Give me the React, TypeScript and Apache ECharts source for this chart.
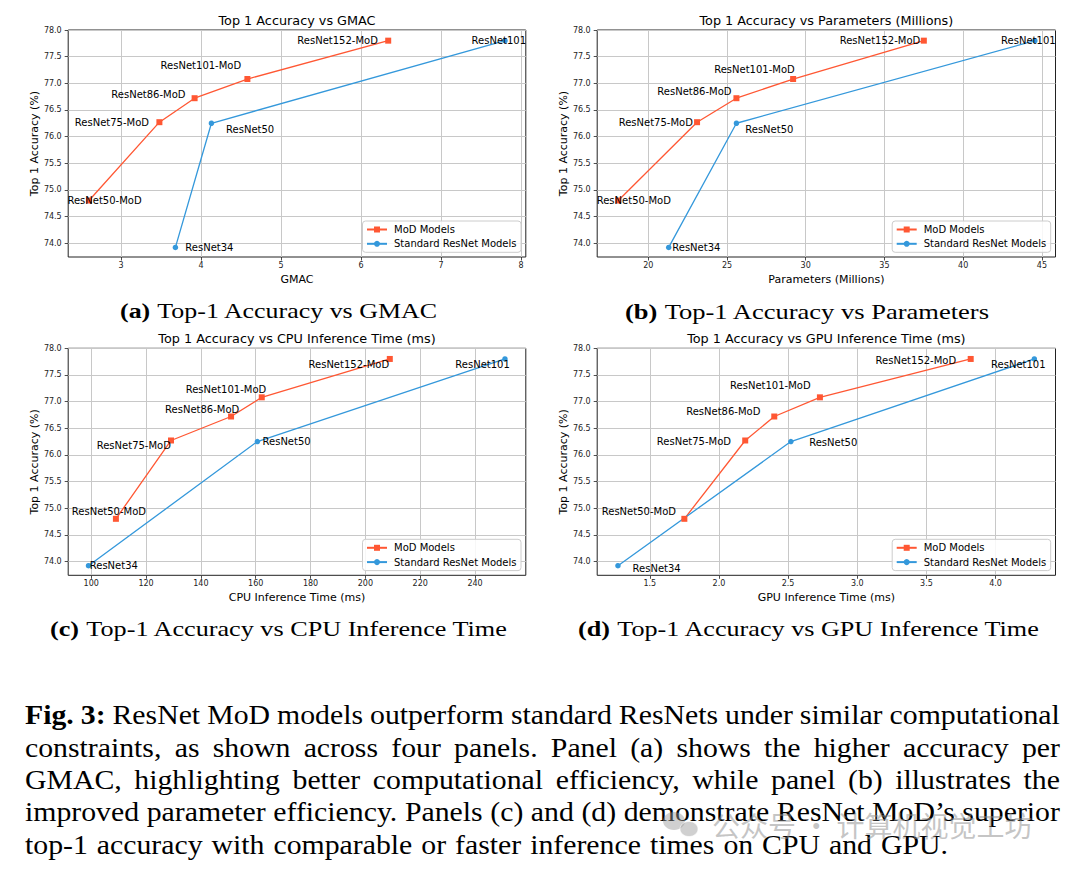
import React, { useEffect, useRef } from 'react';
import * as echarts from 'echarts';

// ---------------- data ----------------
const modNames = ['ResNet50-MoD', 'ResNet75-MoD', 'ResNet86-MoD', 'ResNet101-MoD', 'ResNet152-MoD'];
const stdNames = ['ResNet34', 'ResNet50', 'ResNet101'];
const modAccuracy = [74.8, 76.27, 76.72, 77.08, 77.8];
const stdAccuracy = [73.92, 76.25, 77.8];

const modGmac = [2.6, 3.48, 3.92, 4.58, 6.34];
const stdGmac = [3.68, 4.13, 7.8];
const modParams = [18.1, 23.1, 25.6, 29.2, 37.5];
const stdParams = [21.3, 25.6, 44.55];
const modCpu = [109.0, 129.1, 151.0, 162.2, 208.9];
const stdCpu = [99.0, 160.6, 250.9];
const modGpu = [1.75, 2.19, 2.4, 2.73, 3.82];
const stdGpu = [1.27, 2.52, 4.28];

const accuracyTicks = [74.0, 74.5, 75.0, 75.5, 76.0, 76.5, 77.0, 77.5, 78.0];
const gmacTicks = [3, 4, 5, 6, 7, 8];
const paramTicks = [20, 25, 30, 35, 40, 45];
const cpuTicks = [100, 120, 140, 160, 180, 200, 220, 240];
const gpuTicks = [1.5, 2.0, 2.5, 3.0, 3.5, 4.0];

const panelTitles = [
  'Top 1 Accuracy vs GMAC',
  'Top 1 Accuracy vs Parameters (Millions)',
  'Top 1 Accuracy vs CPU Inference Time (ms)',
  'Top 1 Accuracy vs GPU Inference Time (ms)',
];
const xAxisNames = ['GMAC', 'Parameters (Millions)', 'CPU Inference Time (ms)', 'GPU Inference Time (ms)'];
const yAxisName = 'Top 1 Accuracy (%)';
const subLetters = ['(a)', '(b)', '(c)', '(d)'];
const subTexts = [
  'Top-1 Accuracy vs GMAC',
  'Top-1 Accuracy vs Parameters',
  'Top-1 Accuracy vs CPU Inference Time',
  'Top-1 Accuracy vs GPU Inference Time',
];
const captionLines = [
  'Fig. 3: ResNet MoD models outperform standard ResNets under similar computational',
  'constraints, as shown across four panels. Panel (a) shows the higher accuracy per',
  'GMAC, highlighting better computational efficiency, while panel (b) illustrates the',
  'improved parameter efficiency. Panels (c) and (d) demonstrate ResNet MoD\u2019s superior',
  'top-1 accuracy with comparable or faster inference times on CPU and GPU.',
];
const watermarkText = '公众号 · 计算机视觉工坊';

// ---------------- layout / style ----------------
const RED = '#FF5733';
const BLUE = '#3498DB';
const SANS = 'DejaVu Sans';
const SERIF = 'Liberation Serif';

const grids = [
  { left: 68.2, top: 30, width: 457.6, height: 227 },
  { left: 597.2, top: 30, width: 458.3, height: 227 },
  { left: 68.2, top: 348.3, width: 457.6, height: 227 },
  { left: 597.2, top: 348.3, width: 458.3, height: 227 },
];
const xRanges = [
  [2.34, 8.06],
  [16.76, 45.86],
  [91.6, 258.5],
  [1.12, 4.433],
];
const yRange = [73.74, 78.0];
const xDecimals = [0, 0, 0, 1];

const modOffsets = [
  [[15.5, 0], [-47.5, 0], [-46.2, -4], [-46.5, -14], [-50.6, 0]],
  [[15.5, 0], [-41.3, 0], [-42, -6.7], [-38.7, -9.7], [-43.9, 0]],
  [[-7, -7.7], [-37.2, 5], [-28.9, -7], [-35.8, -7.7], [-41, 5.3]],
  [[-45.5, -7.7], [-51.3, 1.3], [-51, -5.3], [-49.6, -11.7], [-54.8, 2]],
];
const stdOffsets = [
  [[34, 0], [38.7, 6], [-6.2, 0]],
  [[27.6, 0], [32.9, 6], [-6.5, 0]],
  [[25.3, 0], [29.2, 0], [-22.4, 5.3]],
  [[38.7, 2.3], [42.4, 1], [-16, 5.3]],
];

const subCaptionBoxes = [
  { cx: 279, cy: 311, w: 318 },
  { cx: 807.5, cy: 311, w: 365 },
  { cx: 279, cy: 628, w: 458 },
  { cx: 809, cy: 628, w: 462 },
];

const CAP_FONT = 27;
const CAP_LEFT = 25;
const CAP_RIGHT = 1060;
const CAP_LAST_RIGHT = 948;
const CAP_Y = [715.2, 747.6, 780.0, 812.4, 844.8];

let measureCtx: CanvasRenderingContext2D | null = null;
function measure(text: string, font: string): number {
  if (!measureCtx) measureCtx = document.createElement('canvas').getContext('2d');
  measureCtx!.font = font;
  return measureCtx!.measureText(text).width;
}

function buildCaption(): any[] {
  const els: any[] = [];
  const lineWords = captionLines.map((l) => l.split(' '));
  const fontOf = (li: number, wi: number) =>
    (li === 0 && wi < 2 ? 'bold ' : '') + CAP_FONT + 'px "' + SERIF + '"';
  const widths = lineWords.map((ws, li) => ws.map((w, wi) => measure(w, fontOf(li, wi))));
  // horizontal scale from last (unjustified) line with natural spacing
  const lastIdx = lineWords.length - 1;
  const natGap = 0.333 * 26.8;
  const lastWordsSum = widths[lastIdx].reduce((a, b) => a + b, 0);
  const s = (CAP_LAST_RIGHT - CAP_LEFT - natGap * (lineWords[lastIdx].length - 1)) / lastWordsSum;
  lineWords.forEach((ws, li) => {
    const sum = widths[li].reduce((a, b) => a + b, 0) * s;
    const gap = li === lastIdx ? natGap : (CAP_RIGHT - CAP_LEFT - sum) / (ws.length - 1);
    let x = CAP_LEFT;
    ws.forEach((w, wi) => {
      const bold = li === 0 && wi < 2;
      els.push({
        type: 'text',
        x,
        y: CAP_Y[li],
        scaleX: s,
        silent: true,
        style: {
          text: w,
          fontFamily: SERIF,
          fontSize: CAP_FONT,
          fontWeight: bold ? 'bold' : 'normal',
          fill: '#000',
          align: 'left',
          verticalAlign: 'middle',
        },
      });
      x += widths[li][wi] * s + gap;
    });
  });
  return els;
}

function buildSubCaptions(): any[] {
  return subCaptionBoxes.map((b, i) => {
    const fs = 22;
    const w =
      measure(subLetters[i], 'bold ' + fs + 'px "' + SERIF + '"') +
      measure(' ' + subTexts[i], fs + 'px "' + SERIF + '"');
    return {
      type: 'text',
      x: b.cx,
      y: b.cy,
      scaleX: b.w / w,
      silent: true,
      style: {
        text: '{b|' + subLetters[i] + '} ' + subTexts[i],
        fontFamily: SERIF,
        fontSize: fs,
        fill: '#000',
        align: 'center',
        verticalAlign: 'middle',
        rich: { b: { fontWeight: 'bold', fontFamily: SERIF, fontSize: fs, fill: '#000' } },
      },
    };
  });
}

function buildOption(): any {
  const modX = [modGmac, modParams, modCpu, modGpu];
  const stdX = [stdGmac, stdParams, stdCpu, stdGpu];
  const xTicks = [gmacTicks, paramTicks, cpuTicks, gpuTicks];

  const labelBase = {
    show: true,
    position: 'inside',
    formatter: '{b}',
    fontFamily: SANS,
    fontSize: 10,
    color: '#000',
    align: 'center',
    verticalAlign: 'middle',
  };

  const series: any[] = [];
  grids.forEach((_, i) => {
    series.push({
      type: 'line',
      name: 'MoD Models',
      xAxisIndex: i,
      yAxisIndex: i,
      symbol: 'rect',
      symbolSize: 6,
      clip: false,
      itemStyle: { color: RED },
      lineStyle: { color: RED, width: 1.3 },
      label: labelBase,
      emphasis: { disabled: true },
      data: modX[i].map((x, k) => ({
        name: modNames[k],
        value: [x, modAccuracy[k]],
        label: { offset: modOffsets[i][k] },
      })),
    });
    series.push({
      type: 'line',
      name: 'Standard ResNet Models',
      xAxisIndex: i,
      yAxisIndex: i,
      symbol: 'circle',
      symbolSize: 5.5,
      clip: false,
      itemStyle: { color: BLUE },
      lineStyle: { color: BLUE, width: 1.3 },
      label: labelBase,
      emphasis: { disabled: true },
      data: stdX[i].map((x, k) => ({
        name: stdNames[k],
        value: [x, stdAccuracy[k]],
        label: { offset: stdOffsets[i][k] },
      })),
    });
  });

  const xAxes = grids.map((_, i) => ({
    type: 'value',
    gridIndex: i,
    min: xRanges[i][0],
    max: xRanges[i][1],
    name: xAxisNames[i],
    nameLocation: 'middle',
    nameGap: 17,
    nameTextStyle: { fontFamily: SANS, fontSize: 11, color: '#000' },
    axisLine: { show: false },
    axisTick: { show: true, length: 3.5, customValues: xTicks[i], lineStyle: { color: '#222', width: 0.8 } },
    axisLabel: {
      customValues: xTicks[i],
      formatter: (v: number) => v.toFixed(xDecimals[i]),
      fontFamily: SANS,
      fontSize: 8,
      color: '#222',
      margin: 4.5,
    },
    splitLine: { show: true, lineStyle: { color: '#c8c8c8', width: 1 } },
  }));

  const yAxes = grids.map((_, i) => ({
    type: 'value',
    gridIndex: i,
    min: yRange[0],
    max: yRange[1],
    name: yAxisName,
    nameLocation: 'middle',
    nameGap: 28.3,
    nameTextStyle: { fontFamily: SANS, fontSize: 11, color: '#000' },
    axisLine: { show: false },
    axisTick: { show: true, length: 3.5, customValues: accuracyTicks, lineStyle: { color: '#222', width: 0.8 } },
    axisLabel: {
      customValues: accuracyTicks,
      formatter: (v: number) => v.toFixed(1),
      fontFamily: SANS,
      fontSize: 8,
      color: '#222',
      margin: 6.5,
    },
    splitLine: { show: true, lineStyle: { color: '#c8c8c8', width: 1 } },
  }));

  const legends = grids.map((g) => ({
    data: ['MoD Models', 'Standard ResNet Models'],
    orient: 'vertical',
    right: 1080 - (g.left + g.width - 4.8),
    bottom: 869 - (g.top + g.height - 4.7),
    itemWidth: 20,
    itemHeight: 7.5,
    itemGap: 4.3,
    padding: [3.5, 4.5, 3.5, 3.5],
    backgroundColor: 'rgba(255,255,255,0.85)',
    borderColor: '#cccccc',
    borderWidth: 1,
    borderRadius: 3,
    selectedMode: false,
    textStyle: { fontFamily: SANS, fontSize: 10, color: '#000', lineHeight: 10, padding: [0, 0, 0, 2] },
  }));

  const titles = grids.map((g, i) => ({
    type: 'text',
    x: g.left + g.width / 2,
    y: g.top - 10,
    silent: true,
    style: {
      text: panelTitles[i],
      fontFamily: SANS,
      fontSize: 12.8,
      fill: '#000',
      align: 'center',
      verticalAlign: 'middle',
    },
  }));

  const watermark = [
    { type: 'ellipse', shape: { cx: 674, cy: 821, rx: 11, ry: 9 }, style: { fill: 'rgba(150,150,150,0.45)' }, silent: true },
    { type: 'ellipse', shape: { cx: 689, cy: 829, rx: 9, ry: 7.5 }, style: { fill: 'rgba(150,150,150,0.45)', stroke: 'rgba(255,255,255,0.6)', lineWidth: 1 }, silent: true },
    {
      type: 'text',
      x: 712,
      y: 825,
      silent: true,
      style: {
        text: watermarkText,
        fontFamily: 'Noto Sans CJK SC',
        fontSize: 28,
        fill: 'rgba(140,140,140,0.5)',
        align: 'left',
        verticalAlign: 'middle',
      },
    },
  ];

  return {
    animation: false,
    backgroundColor: '#fff',
    grid: grids.map((g) => ({
      ...g,
      containLabel: false,
      outerBoundsMode: 'none',
      show: true,
      borderColor: '#222',
      borderWidth: 1,
      backgroundColor: 'transparent',
    })),
    xAxis: xAxes,
    yAxis: yAxes,
    legend: legends,
    tooltip: { show: false },
    series,
    graphic: [...titles, ...buildSubCaptions(), ...buildCaption(), ...watermark],
  };
}

export default function App() {
  const ref = useRef<HTMLDivElement>(null);
  useEffect(() => {
    const chart = echarts.init(ref.current!, null, { renderer: 'svg' });
    chart.setOption(buildOption());
    return () => chart.dispose();
  }, []);
  return (
    <div
      ref={ref}
      style={{ position: 'absolute', left: 0, top: 0, width: 1080, height: 869, background: '#fff' }}
    />
  );
}
